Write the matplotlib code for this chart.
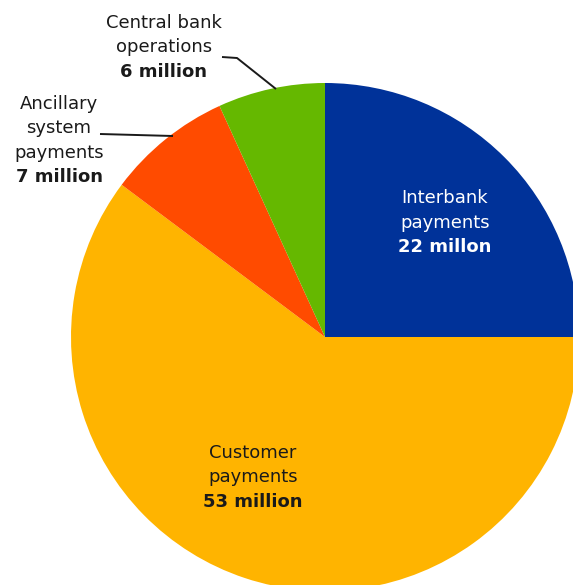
import matplotlib.pyplot as plt

plt.rcParams['font.family'] = ['DejaVu Sans']

# payment volumes (millions), clockwise from 12 o'clock
labels = ["Interbank\npayments", "Customer\npayments", "Ancillary\nsystem\npayments", "Central bank\noperations"]
values = [22, 53, 7, 6]
value_text = ["22 millon", "53 million", "7 million", "6 million"]
colors = ["#003299", "#ffb400", "#ff4b00", "#65b800"]

fig = plt.figure(figsize=(5.73, 5.85), dpi=100)
ax = fig.add_axes([0, 0, 1, 1])

# pie drawn in pixel-like coordinates; y axis is inverted, so counterclock=True runs clockwise on screen
cx, cy, r = 325, 337, 254
ax.pie(values, colors=colors, startangle=-90, counterclock=True,
       center=(cx, cy), radius=r, frame=True,
       wedgeprops=dict(linewidth=0))
ax.set_xlim(0, 573)
ax.set_ylim(585, 0)
ax.set_aspect("equal")
ax.axis("off")

fs = 13
txt = "#1a1a1a"


def block(x, y, name, val, color, step=24.5):
    lines = name.split("\n")
    for i, ln in enumerate(lines):
        ax.text(x, y + i * step, ln, ha="center", va="center", fontsize=fs, color=color)
    ax.text(x, y + len(lines) * step, val, ha="center", va="center", fontsize=fs,
            color=color, fontweight="bold")


block(445, 198, labels[0], value_text[0], "white")
block(253, 453, labels[1], value_text[1], txt)
block(59, 104, labels[2], value_text[2], txt, step=24.3)
block(164, 23, labels[3], value_text[3], txt)

# leader lines
ax.plot([222, 237, 276], [57, 58, 89], color="#1a1a1a", lw=1.4, solid_capstyle="butt")
ax.plot([100, 173], [134, 136], color="#1a1a1a", lw=1.4, solid_capstyle="butt")

fig.savefig("out.png", dpi=100)
